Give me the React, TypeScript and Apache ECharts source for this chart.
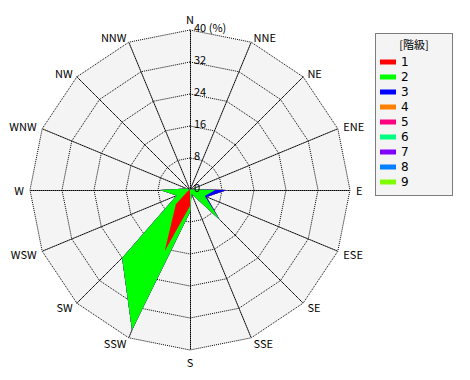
import React, { useEffect, useRef } from "react";
import * as echarts from "echarts";

// Compass directions, clockwise from north
const DIRECTIONS = ["N", "NNE", "NE", "ENE", "E", "ESE", "SE", "SSE", "S", "SSW", "SW", "WSW", "W", "WNW", "NW", "NNW"];
const CLASS_NAMES = ["1", "2", "3", "4", "5", "6", "7", "8", "9"];
const CLASS_COLORS = ["#ff0000", "#00ff00", "#0000ff", "#ff8000", "#ff0080", "#00ff80", "#8000ff", "#0080ff", "#80ff00"];
const TICKS = [0, 8, 16, 24, 32, 40];
const MAX_PCT = 40;

// Frequency (%) by class, in compass order N..NNW
const class1 = [0, 0, 0, 0, 0, 0, 0, 0, 4, 16.5, 5, 0.5, 0, 0, 0, 0];
const class2 = [0, 0, 0, 0.5, 6.3, 4, 10.5, 1, 1.5, 21.4, 19, 3.1, 7.5, 1, 0, 0];
const class3 = [0, 0, 0, 0, 3, 0.5, 0, 0, 0, 0, 0, 0, 0, 0, 0, 0];
const class4 = [0, 0, 0, 0, 0, 0, 0, 0, 0, 0, 0, 0, 0, 0, 0, 0];
const class5 = [0, 0, 0, 0, 0, 0, 0, 0, 0, 0, 0, 0, 0, 0, 0, 0];
const class6 = [0, 0, 0, 0, 0, 0, 0, 0, 0, 0, 0, 0, 0, 0, 0, 0];
const class7 = [0, 0, 0, 0, 0, 0, 0, 0, 0, 0, 0, 0, 0, 0, 0, 0];
const class8 = [0, 0, 0, 0, 0, 0, 0, 0, 0, 0, 0, 0, 0, 0, 0, 0];
const class9 = [0, 0, 0, 0, 0, 0, 0, 0, 0, 0, 0, 0, 0, 0, 0, 0];
const CLASSES = [class1, class2, class3, class4, class5, class6, class7, class8, class9];

// chart coordinates (the div sits 8px in from the page corner)
const CX = 182;
const CY = 182;
const R = 160;
const FONT = "'Noto Sans CJK JP', 'DejaVu Sans', sans-serif";

export default function App() {
  const ref = useRef<HTMLDivElement>(null);
  useEffect(() => {
    if (!ref.current) return;
    const chart = echarts.init(ref.current, null, { renderer: "svg" });
    const n = DIRECTIONS.length;
    // radar goes counter-clockwise; map radar index -> compass index
    const order = Array.from({ length: n }, (_, i) => (n - i) % n);
    const cumulative: number[][] = [];
    let acc = new Array(n).fill(0);
    CLASSES.forEach((c) => {
      acc = acc.map((v, i) => v + c[i]);
      cumulative.push(acc.slice());
    });

    const series = CLASS_NAMES.map((name, k) => ({
      type: "radar",
      name,
      z: 20 - k,
      symbol: "none",
      silent: true,
      itemStyle: { color: CLASS_COLORS[k] },
      lineStyle: { width: 0, opacity: 0 },
      areaStyle: { color: CLASS_COLORS[k], opacity: 1 },
      data: [{ name, value: order.map((ci) => cumulative[k][ci]) }],
    }));

    const tickLabels = TICKS.map((t) => ({
      type: "text",
      z: 50,
      x: CX + 4,
      y: CY - (t / MAX_PCT) * R - 3,
      style: {
        text: t === MAX_PCT ? `${t} (%)` : String(t),
        fill: "#000",
        font: `11px ${FONT}`,
        textVerticalAlign: "middle",
        textAlign: "left",
      },
    }));

    chart.setOption({
      animation: false,
      radar: {
        center: [CX, CY],
        radius: R,
        startAngle: 90,
        shape: "polygon",
        splitNumber: 5,
        nameGap: 6,
        indicator: order.map((ci) => ({ name: DIRECTIONS[ci], max: MAX_PCT, min: 0 })),
        axisName: { color: "#000", fontSize: 11, fontFamily: FONT },
        axisLine: { lineStyle: { color: "#000", type: [1, 1], width: 1 } },
        splitLine: { lineStyle: { color: "#000", type: [1, 1], width: 1 } },
        splitArea: { show: true, areaStyle: { color: ["#f4f4f4"] } },
        axisLabel: { show: false },
        axisTick: { show: false },
      },
      legend: {
        orient: "vertical",
        left: 372,
        top: 47,
        z: 30,
        padding: 0,
        itemWidth: 16,
        itemHeight: 5,
        itemGap: 1,
        icon: "rect",
        selectedMode: false,
        data: CLASS_NAMES,
        textStyle: { fontSize: 12, lineHeight: 14, fontFamily: "'DejaVu Sans', sans-serif", color: "#000" },
      },
      graphic: [
        {
          type: "rect",
          z: 1,
          shape: { x: 367.5, y: 25.5, width: 77, height: 162 },
          style: { fill: "#f4f4f4", stroke: "#000", lineWidth: 1, lineDash: [1, 1] },
        },
        {
          type: "text",
          z: 30,
          x: 406,
          y: 36,
          style: { text: "[階級]", fill: "#000", font: `11px ${FONT}`, textAlign: "center", textVerticalAlign: "middle" },
        },
        ...tickLabels,
      ],
      series,
    });
    return () => chart.dispose();
  }, []);
  return <div ref={ref} style={{ width: 470, height: 380 }} />;
}
